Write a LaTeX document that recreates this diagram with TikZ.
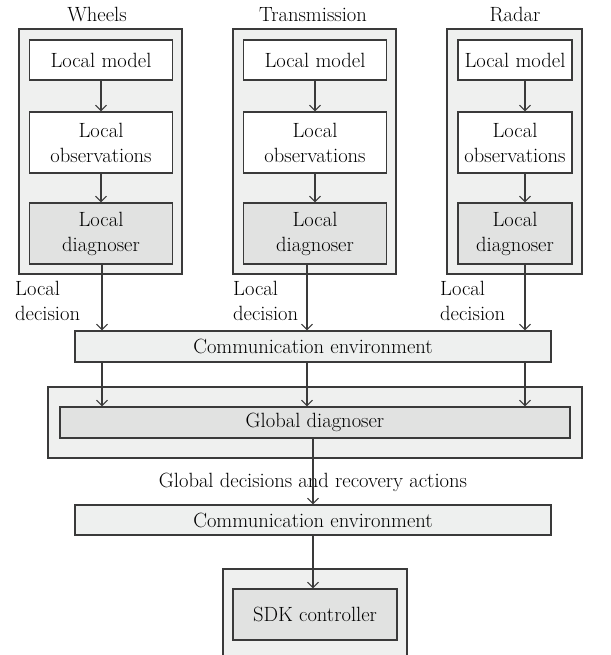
\documentclass[tikz,border=0pt]{standalone}
\usetikzlibrary{arrows.meta}
\definecolor{lineC}{HTML}{3A3A3A}
\definecolor{outerC}{HTML}{EFF0EF}
\definecolor{diagC}{HTML}{E1E2E1}
\definecolor{commC}{HTML}{EEF0EF}
\begin{document}
\begin{tikzpicture}[x=1pt,y=-1pt,
  font=\fontsize{20.6}{25}\selectfont,
  sized/.style 2 args={minimum width=#1pt, minimum height=#2pt},
  frame/.style={draw=lineC, line width=1.1pt, fill=outerC, inner sep=0pt},
  wbox/.style={draw=lineC, line width=1.1pt, fill=white, align=center, inner sep=0pt},
  dbox/.style={wbox, fill=diagC},
  cbox/.style={wbox, fill=commC},
  lbl/.style={inner sep=0pt, align=left},
  flow/.style={draw=lineC, line width=1.1pt, -{Straight Barb[length=5.5pt,width=11pt]}}]
\clip (0,0) rectangle (610,655);

% Wheels column
\node[frame, sized={163}{245}] (wc) at (100.5,151.5) {};
\node[wbox, sized={143}{40}] (wm) at (101,60) {Local model};
\node[wbox, sized={143}{61}] (wo) at (101,142.5) {Local\\observations};
\node[dbox, sized={143}{61}] (wd) at (101,233.5) {Local\\diagnoser};
\node (wt) at (97,15) {Wheels};

% Transmission column
\node[frame, sized={163}{245}] (tc) at (314.5,151.5) {};
\node[wbox, sized={143}{40}] (tm) at (315,60) {Local model};
\node[wbox, sized={143}{61}] (to) at (315,142.5) {Local\\observations};
\node[dbox, sized={143}{61}] (td) at (315,233.5) {Local\\diagnoser};
\node (tt) at (313,15) {Transmission};

% Radar column
\node[frame, sized={135}{245}] (rc) at (514.5,151.5) {};
\node[wbox, sized={114}{40}] (rm) at (515,60) {Local model};
\node[wbox, sized={114}{61}] (ro) at (515,142.5) {Local\\observations};
\node[dbox, sized={114}{61}] (rd) at (515,233.5) {Local\\diagnoser};
\node (rt) at (515,15) {Radar};

% arrows inside the columns
\draw[flow] (wm) -- (wo);
\draw[flow] (wo) -- (wd);
\draw[flow] (tm) -- (to);
\draw[flow] (to) -- (td);
\draw[flow] ([xshift=10pt]rm.south) -- ([xshift=10pt]ro.north);
\draw[flow] ([xshift=10pt]ro.south) -- ([xshift=10pt]rd.north);

% first communication layer and global diagnoser
\node[cbox, sized={476}{31}] (comm1) at (313,346.5) {Communication environment};
\node[frame, sized={534}{71}] (gc) at (315,422.5) {};
\node[dbox, sized={510}{31}] (gd) at (315,422.5) {Global diagnoser};

\coordinate (xw) at (102,0);
\coordinate (xt) at (307,0);
\coordinate (xr) at (525,0);

\node[lbl, anchor=north west] (lw) at (15,281) {Local\\decision};
\node[lbl, anchor=north west] (lt) at (233,281) {Local\\decision};
\node[lbl, anchor=north west] (lr) at (440,281) {Local\\decision};

\draw[flow] (wd.south -| xw) -- (comm1.north -| xw);
\draw[flow] (td.south -| xt) -- (comm1.north -| xt);
\draw[flow] (rd.south -| xr) -- (comm1.north -| xr);

\draw[flow] (comm1.south -| xw) -- (gd.north -| xw);
\draw[flow] (comm1.south -| xt) -- (gd.north -| xt);
\draw[flow] (comm1.south -| xr) -- (gd.north -| xr);

% second communication layer and controller
\node[cbox, sized={476}{30}] (comm2) at (313,520) {Communication environment};
\node (gl) at (313,482) {Global decisions and recovery actions};
\node[frame, sized={184}{106}] (sc) at (315,622) {};
\node[dbox, sized={164}{51}] (sdk) at (315,614.5) {SDK controller};

\coordinate (xm) at (313,0);
\draw[flow] (gd.south -| xm) -- (comm2.north -| xm);
\draw[flow] (comm2.south -| xm) -- (sdk.north -| xm);
\end{tikzpicture}
\end{document}
